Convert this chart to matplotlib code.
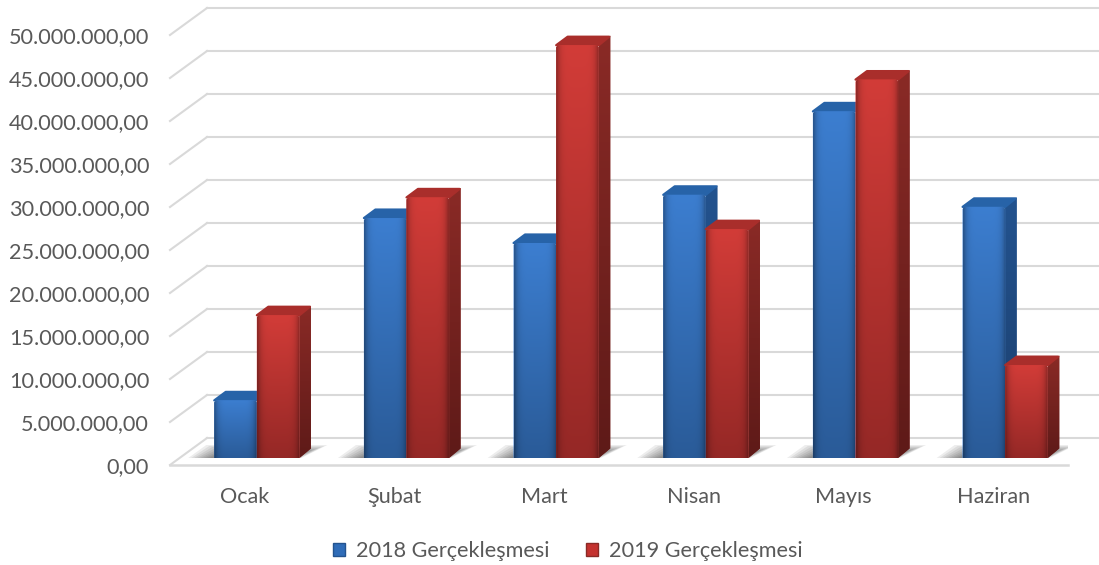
import numpy as np
import matplotlib
matplotlib.use('Agg')
import matplotlib.pyplot as plt
from matplotlib.patches import Polygon, Patch
from matplotlib.colors import to_rgb
from matplotlib.ticker import FuncFormatter

plt.rcParams['font.family'] = ['Lato', 'DejaVu Sans']

months = ['Ocak', 'Şubat', 'Mart', 'Nisan', 'Mayıs', 'Haziran']
y2018 = [6.7e6, 27.9e6, 25.0e6, 30.6e6, 40.3e6, 29.2e6]
y2019 = [16.6e6, 30.3e6, 48.0e6, 26.6e6, 44.0e6, 10.8e6]
yticks = np.arange(0, 50e6 + 1, 5e6)
names = ['2018 Gerçekleşmesi', '2019 Gerçekleşmesi']

W, H = 1099, 565
fig = plt.figure(figsize=(W / 100, H / 100), dpi=100, facecolor='w')
# axes = front plane of the fake 3d box
ax = fig.add_axes([170 / W, (H - 465) / H, 898 / W, 430 / H])
ax.set_xlim(-0.5, 5.5)
ax.set_ylim(0, 50e6)
px = 6 / 898        # x units per pixel
py = 50e6 / 430     # y units per pixel

for s in ax.spines.values():
    s.set_visible(False)
ax.set_xticks(range(6))
ax.set_xticklabels(months)
ax.set_yticks(yticks)
ax.yaxis.set_major_formatter(FuncFormatter(
    lambda v, p: f'{v:,.2f}'.replace(',', '#').replace('.', ',').replace('#', '.')))
ax.tick_params(length=0, labelsize=15.6, labelcolor='#595959')
ax.tick_params(axis='y', pad=15)
ax.tick_params(axis='x', pad=15.5)

# walls
grid = '#d9d9d9'
wx, wy = 37 * px, 27 * py
for v in yticks:
    ax.plot([-0.5, -0.5 + wx], [v, v + wy], color=grid, lw=1.5, clip_on=False, zorder=1)
    ax.plot([-0.5 + wx, 5.5 + 31 * px], [v + wy, v + wy], color=grid, lw=1.5, clip_on=False, zorder=1)
ax.plot([-0.5, 5.5], [0, 0], color=grid, lw=1.8, clip_on=False, zorder=1)

# bars sit a bit inside the box
ox, oy = 12 * px, 7 * py
dx, dy = 11.5 * px, 9.5 * py
w = 42.6 * px
cx, cy = 2 * px, 2 * py  # corner cut, fakes the rounded bevel


def gradient(patch, top, bottom, edge=0.0, z=3):
    xy = patch.get_xy()
    x0, x1, y0, y1 = xy[:, 0].min(), xy[:, 0].max(), xy[:, 1].min(), xy[:, 1].max()
    t = np.linspace(0, 1, 128)[:, None, None]
    img = np.array(to_rgb(top))[None, None, :] * (1 - t) + np.array(to_rgb(bottom))[None, None, :] * t
    img = np.repeat(img, 24, axis=1)
    if edge:
        u = np.abs(np.linspace(-1, 1, 24))[None, :, None]
        img = img * (1 - edge * u ** 6)
    im = ax.imshow(img, extent=[x0, x1, y0, y1], origin='upper', aspect='auto', zorder=z, interpolation='bilinear')
    im.set_clip_path(patch)


def shadow(x0, x1):
    # soft floor shadow, stacked translucent shapes
    for k in range(8):
        g = k * 3.0
        ax.add_patch(Polygon([[x0 - (26 - g) * px, oy], [x1 + (2 - g / 3) * px, oy],
                              [x1 + (28 - g) * px, oy + (13 - g / 3) * py], [x0 - (8 - g) * px, oy + (13 - g / 3) * py]],
                             closed=True, fc='k', ec='none', alpha=0.07, zorder=2))


def bar3d(x, v, top, bottom, stop, sbot, roof):
    b = ax.bar(x, v, width=w, bottom=oy, align='edge', color='none', zorder=3)[0]
    x0, x1 = x, x + w
    yb, yt = oy, oy + v
    side = Polygon([[x1, yb], [x1 + dx, yb + dy], [x1 + dx, yt + dy], [x1, yt]], closed=True,
                   fc=stop, ec='none', zorder=3, clip_on=False)
    ax.add_patch(side)
    gradient(side, stop, sbot)
    ax.add_patch(Polygon([[x0, yt], [x0 + dx, yt + dy - cy / 2], [x1 + dx - cx / 2, yt + dy - cy / 2], [x1, yt]], closed=True,
                         fc=roof, ec=roof, lw=1.6, joinstyle='round', zorder=3, clip_on=False))
    front = Polygon([[x0, yb], [x1, yb], [x1, yt - cy], [x1 - cx, yt], [x0 + cx, yt], [x0, yt - cy]],
                    closed=True, fc=top, ec='none', zorder=3, clip_on=False)
    ax.add_patch(front)
    gradient(front, top, bottom, edge=0.3)


for i in range(6):
    shadow(i + ox - w, i + ox + w)

for i in range(6):
    bar3d(i + ox - w, y2018[i], '#3c7ed0', '#2a5b98', '#23538f', '#1b3e6c', '#2763a8')
    bar3d(i + ox, y2019[i], '#d23c38', '#952826', '#8a2a26', '#5e1a18', '#a92e2b')

ax.set_xlim(-0.5, 5.5)
ax.set_ylim(0, 50e6)

handles = [Patch(fc='#2f6cb8', ec='#23538f'), Patch(fc='#c4322f', ec='#8a2a26')]
fig.legend(handles, names, loc='center', bbox_to_anchor=(568 / W, (H - 551) / H), ncol=2, frameon=False,
           fontsize=15.6, labelcolor='#595959', handlelength=0.56, handleheight=0.56,
           handletextpad=0.5, columnspacing=1.7)

fig.savefig('out.png', dpi=100)
